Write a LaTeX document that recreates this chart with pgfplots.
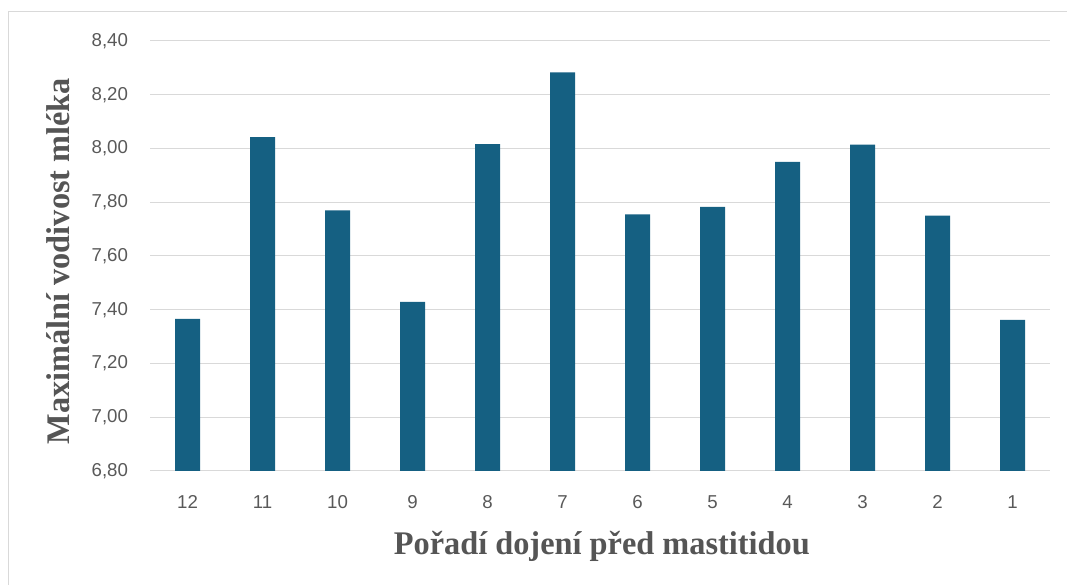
\documentclass[border=0pt]{standalone}
\usepackage{fontspec}
\usepackage{graphicx}
\usepackage{pgfplots}
\pgfplotsset{compat=1.18}
\setmainfont{Liberation Serif}
\setsansfont{Liberation Sans}
\definecolor{barc}{HTML}{156082}
\definecolor{gridc}{HTML}{D9D9D9}
\definecolor{tickc}{HTML}{595959}
\definecolor{ttlc}{HTML}{555555}
\begin{document}
\begin{tikzpicture}
\begin{axis}[
  scale only axis, width=675pt, height=322.5pt,
  xmin=-0.5, xmax=11.5, ymin=6.8, ymax=8.4,
  ytick={6.8,7.0,7.2,7.4,7.6,7.8,8.0,8.2,8.4},
  xtick={0,...,11},
  xticklabels={12,11,10,9,8,7,6,5,4,3,2,1},
  ymajorgrids, grid style={draw=gridc, line width=0.75pt},
  axis lines*=left,
  y axis line style={draw=none},
  x axis line style={draw=gridc, line width=0.75pt, -},
  major tick length=0pt,
  /pgf/number format/.cd, fixed, fixed zerofill, precision=2, use comma, assume math mode=true,
  /pgfplots/.cd,
  ticklabel style={font=\sffamily\fontsize{14}{16}\selectfont, color=tickc},
  xticklabel style={yshift=-15pt},
  yticklabel style={xshift=-13pt},
  ybar, bar width=18.75pt,
  xlabel={\scalebox{0.98}[1]{Pořadí dojení před mastitidou}},
  ylabel={\scalebox{0.98}[1]{Maximální vodivost mléka}},
  label style={font=\bfseries\fontsize{24.75}{28}\selectfont, color=ttlc},
  xlabel style={at={(rel axis cs:0.502,-0.1953)}, anchor=base},
  ylabel style={at={(rel axis cs:-0.0889,0.488)}, anchor=base, rotate=0},
]
\addplot[fill=barc, draw=none] coordinates {
(0,7.366) (1,8.042) (2,7.770) (3,7.429) (4,8.016) (5,8.283)
(6,7.755) (7,7.783) (8,7.950) (9,8.014) (10,7.750) (11,7.362)};
\coordinate (tl) at (rel axis cs:-0.16667,1.09535);
\coordinate (br) at (rel axis cs:1.01889,-0.26512);
\coordinate (bl) at (rel axis cs:-0.15778,-0.3);
\coordinate (btl) at (rel axis cs:-0.15778,1.06822);
\coordinate (btr) at (rel axis cs:1.05,1.06822);
\end{axis}
\useasboundingbox (tl) rectangle (br);
\draw[gridc, line width=0.75pt] (bl) -- (btl) -- (btr);
\end{tikzpicture}
\end{document}
